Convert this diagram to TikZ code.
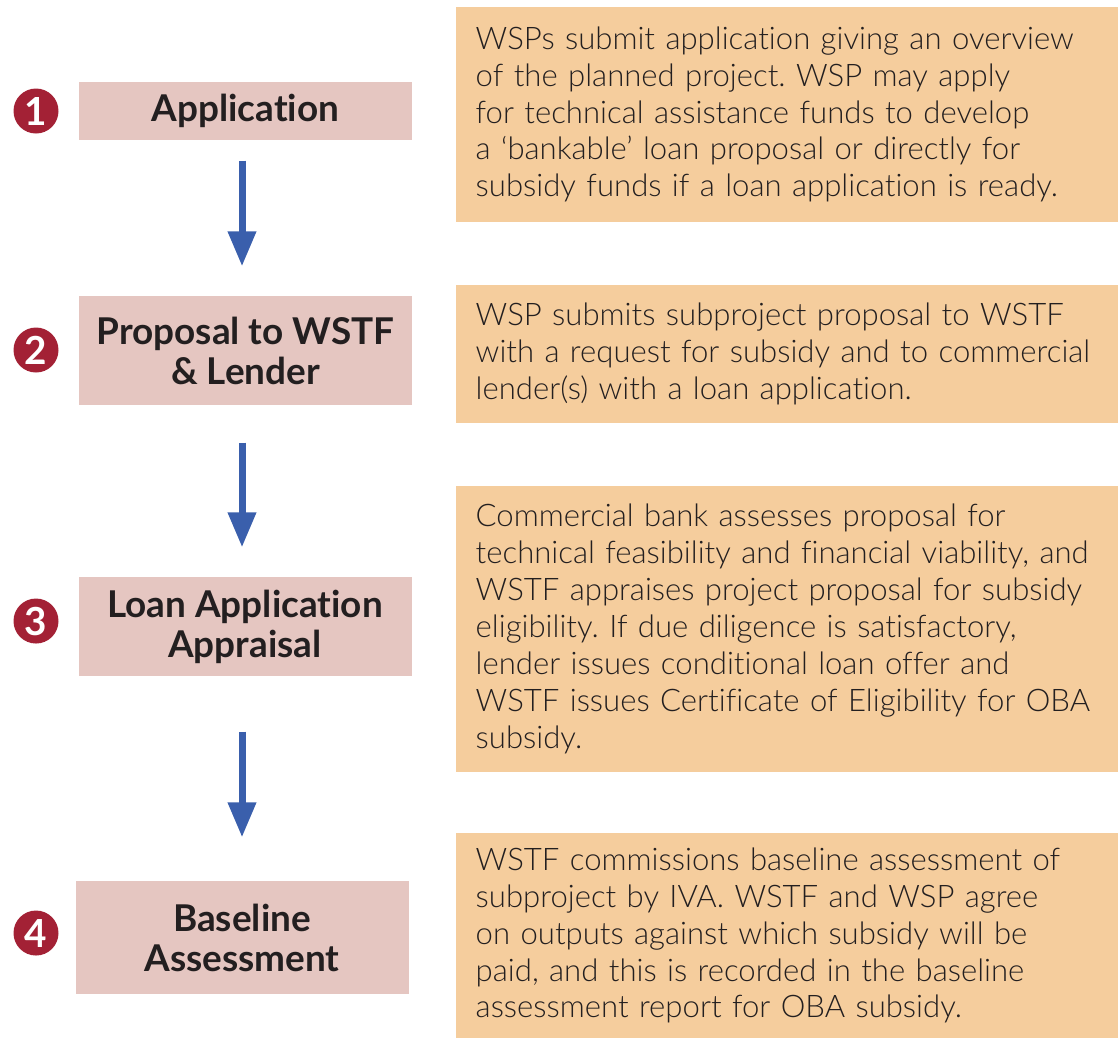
\documentclass[tikz,border=0pt]{standalone}
\usepackage{fontspec}
\setmainfont{Lato}[Ligatures={TeX,NoCommon}]
\newfontfamily\notefont{Lato Light}[Ligatures={TeX,NoCommon}]
\usetikzlibrary{arrows.meta}
\definecolor{stepfill}{HTML}{E5C6C1}
\definecolor{notefill}{HTML}{F5CD9D}
\definecolor{dotred}{HTML}{A32135}
\definecolor{flowblue}{HTML}{3A5FAC}
\definecolor{ink}{HTML}{231F20}
\frenchspacing
\begin{document}
\begin{tikzpicture}[
  stepbox/.style={fill=stepfill, text=ink, minimum width=3.33cm, align=center,
    font=\fontsize{10.5}{11.4}\selectfont\bfseries, inner sep=0pt},
  notebox/.style={fill=notefill, text=ink, anchor=west, minimum width=6.63cm,
    text width=6.4cm, align=left, inner xsep=0.2cm, inner ysep=0pt,
    font=\notefont\fontsize{8.85}{10.5}\selectfont},
  numdot/.style={circle, fill=dotred, text=white, minimum size=0.45cm, inner sep=0pt,
    font=\fontsize{11}{11}\selectfont\bfseries},
  flow/.style={flowblue, line width=0.07cm, -{Triangle[width=0.27cm,length=0.35cm]}}
]
  \useasboundingbox (0,0) rectangle (11.18,-10.38);

  % numbers
  \foreach \n/\y in {1/1.11, 2/3.50, 3/6.21, 4/9.33}
    \node[numdot] (dot\n) at (0.36,-\y) {\n};

  % steps
  \node[stepbox, minimum height=0.58cm] (application) at (2.455,-1.11) {Application};
  \node[stepbox, minimum height=1.09cm] (proposal) at (2.455,-3.505) {Proposal to WSTF\\\& Lender};
  \node[stepbox, minimum height=0.99cm] (appraisal) at (2.45,-6.265) {Loan Application\\Appraisal};
  \node[stepbox, minimum height=1.13cm] (baseline) at (2.42,-9.375) {Baseline\\Assessment};

  % notes
  \node[notebox, minimum height=2.15cm] (noteapp) at (4.55,-1.145)
    {WSPs submit application giving an overview\\
     of the planned project. WSP may apply\\
     for technical assistance funds to develop\\
     a ‘bankable’ loan proposal or directly for\\
     subsidy funds if a loan application is ready.};
  \node[notebox, minimum height=1.38cm] (noteprop) at (4.55,-3.54)
    {WSP submits subproject proposal to WSTF\\
     with a request for subsidy and to commercial\\
     lender(s) with a loan application.};
  \node[notebox, minimum height=2.86cm] (noteappr) at (4.55,-6.29)
    {Commercial bank assesses proposal for\\
     technical feasibility and financial viability, and\\
     WSTF appraises project proposal for subsidy\\
     eligibility. If due diligence is satisfactory,\\
     lender issues conditional loan offer and\\
     WSTF issues Certificate of Eligibility for OBA\\
     subsidy.};
  \node[notebox, minimum height=2.05cm] (notebase) at (4.55,-9.355)
    {WSTF commissions baseline assessment of\\
     subproject by IVA. WSTF and WSP agree\\
     on outputs against which subsidy will be\\
     paid, and this is recorded in the baseline\\
     assessment report for OBA subsidy.};

  % arrows
  \draw[flow, shorten <=0.2cm, shorten >=0.29cm] (application.south -| 2.42,0) -- (proposal.north -| 2.42,0);
  \draw[flow, shorten <=0.37cm, shorten >=0.29cm] (proposal.south -| 2.42,0) -- (appraisal.north -| 2.42,0);
  \draw[flow, shorten <=0.55cm, shorten >=0.43cm] (appraisal.south -| 2.42,0) -- (baseline.north);

\end{tikzpicture}
\end{document}
